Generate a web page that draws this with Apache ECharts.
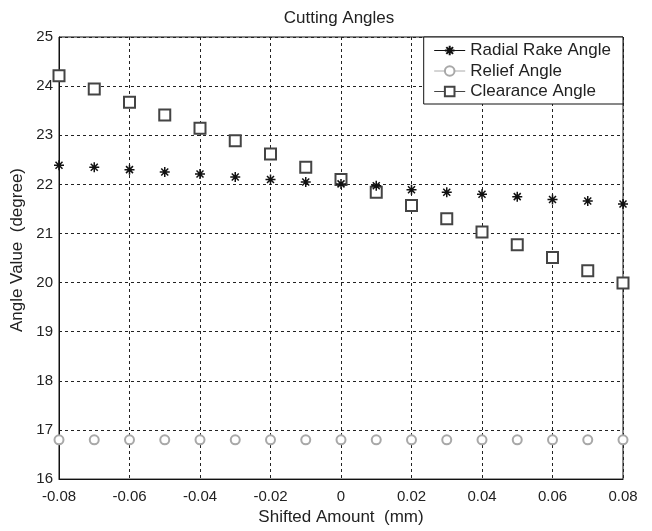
<!DOCTYPE html>
<html>
<head>
<meta charset="utf-8">
<script src="https://cdn.jsdelivr.net/npm/echarts@6/dist/echarts.min.js"></script>
<style>
  html, body { margin: 0; padding: 0; background: #fff; }
  #chart { width: 652px; height: 531px; }
</style>
</head>
<body>
<div id="chart"></div>
<script>
// Shifted amount (mm) at which each angle was evaluated
var shifts = [-0.08, -0.07, -0.06, -0.05, -0.04, -0.03, -0.02, -0.01, 0,
              0.01, 0.02, 0.03, 0.04, 0.05, 0.06, 0.07, 0.08];

// Angles in degrees
var radialRake = [22.39, 22.35, 22.30, 22.25, 22.21, 22.15, 22.10, 22.05, 22.01,
                  21.97, 21.89, 21.84, 21.80, 21.75, 21.69, 21.66, 21.60];
var relief = [16.80, 16.80, 16.80, 16.80, 16.80, 16.80, 16.80, 16.80, 16.80,
              16.80, 16.80, 16.80, 16.80, 16.80, 16.80, 16.80, 16.80];
var clearance = [24.21, 23.94, 23.67, 23.41, 23.14, 22.89, 22.62, 22.35, 22.10,
                 21.84, 21.57, 21.30, 21.03, 20.77, 20.51, 20.24, 19.99];

var seriesNames = ['Radial Rake Angle', 'Relief Angle', 'Clearance Angle'];

function pairs(ys) {
  return shifts.map(function (x, i) { return [x, ys[i]]; });
}

var FONT = '"Liberation Sans", Arial, sans-serif';
var TEXT = '#222';
var asterisk = 'path://M5,0L5,10M0,5L10,5M1.5,1.5L8.5,8.5M1.5,8.5L8.5,1.5';

var chart = echarts.init(document.getElementById('chart'), null, { renderer: 'canvas' });

var gridLine = { show: true, lineStyle: { color: '#222', width: 1, type: [3, 3] } };

chart.setOption({
  backgroundColor: '#fff',
  animation: false,
  title: {
    text: 'Cutting Angles',
    left: 334,
    top: 5,
    textAlign: 'center',
    textStyle: { fontFamily: FONT, fontSize: 17, fontWeight: 'normal', color: TEXT }
  },
  grid: {
    left: 59, top: 37, right: 29, bottom: 50,
    show: true, borderColor: '#111', borderWidth: 1, backgroundColor: '#fff'
  },
  legend: {
    orient: 'vertical',
    right: 29,
    top: 37,
    padding: [5, 12, 4, 10],
    itemGap: 3.5,
    itemWidth: 31,
    itemHeight: 12,
    backgroundColor: '#fff',
    borderColor: '#111',
    borderWidth: 1,
    borderRadius: 0,
    textStyle: { fontFamily: FONT, fontSize: 17, color: TEXT },
    data: [
      { name: seriesNames[0], lineStyle: { opacity: 1, width: 1, color: '#111' } },
      { name: seriesNames[1], lineStyle: { opacity: 1, width: 1, color: '#aaa' } },
      { name: seriesNames[2], lineStyle: { opacity: 1, width: 1, color: '#444' } }
    ]
  },
  xAxis: {
    type: 'value',
    min: -0.08,
    max: 0.08,
    interval: 0.02,
    name: 'Shifted Amount  (mm)',
    nameLocation: 'middle',
    nameGap: 25,
    nameTextStyle: { fontFamily: FONT, fontSize: 17, color: TEXT },
    axisLine: { show: true, onZero: false, lineStyle: { color: '#111', width: 1 } },
    axisTick: { show: false },
    axisLabel: {
      fontFamily: FONT, fontSize: 15, color: TEXT, margin: 10,
      formatter: function (v) {
        var r = Math.round(v * 100) / 100;
        return r === 0 ? '0' : r.toFixed(2);
      }
    },
    splitLine: gridLine
  },
  yAxis: {
    type: 'value',
    min: 16,
    max: 25,
    interval: 1,
    name: 'Angle Value  (degree)',
    nameLocation: 'middle',
    nameGap: 31,
    nameTextStyle: { fontFamily: FONT, fontSize: 17, color: TEXT, padding: [0, 0, 0, 16] },
    axisLine: { show: true, onZero: false, lineStyle: { color: '#111', width: 1 } },
    axisTick: { show: false },
    axisLabel: { fontFamily: FONT, fontSize: 15, color: TEXT, margin: 6 },
    splitLine: gridLine
  },
  series: [
    {
      name: seriesNames[0],
      type: 'line',
      data: pairs(radialRake),
      symbol: asterisk,
      symbolSize: 10,
      showAllSymbol: true,
      lineStyle: { opacity: 0 },
      itemStyle: { color: '#111', borderColor: '#111', borderWidth: 1.5 },
      z: 4
    },
    {
      name: seriesNames[1],
      type: 'line',
      data: pairs(relief),
      symbol: 'emptyCircle',
      symbolSize: 9,
      showAllSymbol: true,
      lineStyle: { opacity: 0 },
      itemStyle: { color: '#a8a8a8', borderWidth: 1 },
      z: 3
    },
    {
      name: seriesNames[2],
      type: 'line',
      data: pairs(clearance),
      symbol: 'emptyRect',
      symbolSize: 11,
      showAllSymbol: true,
      lineStyle: { opacity: 0 },
      itemStyle: { color: '#444', borderWidth: 1 },
      z: 3
    }
  ]
});
</script>
</body>
</html>
